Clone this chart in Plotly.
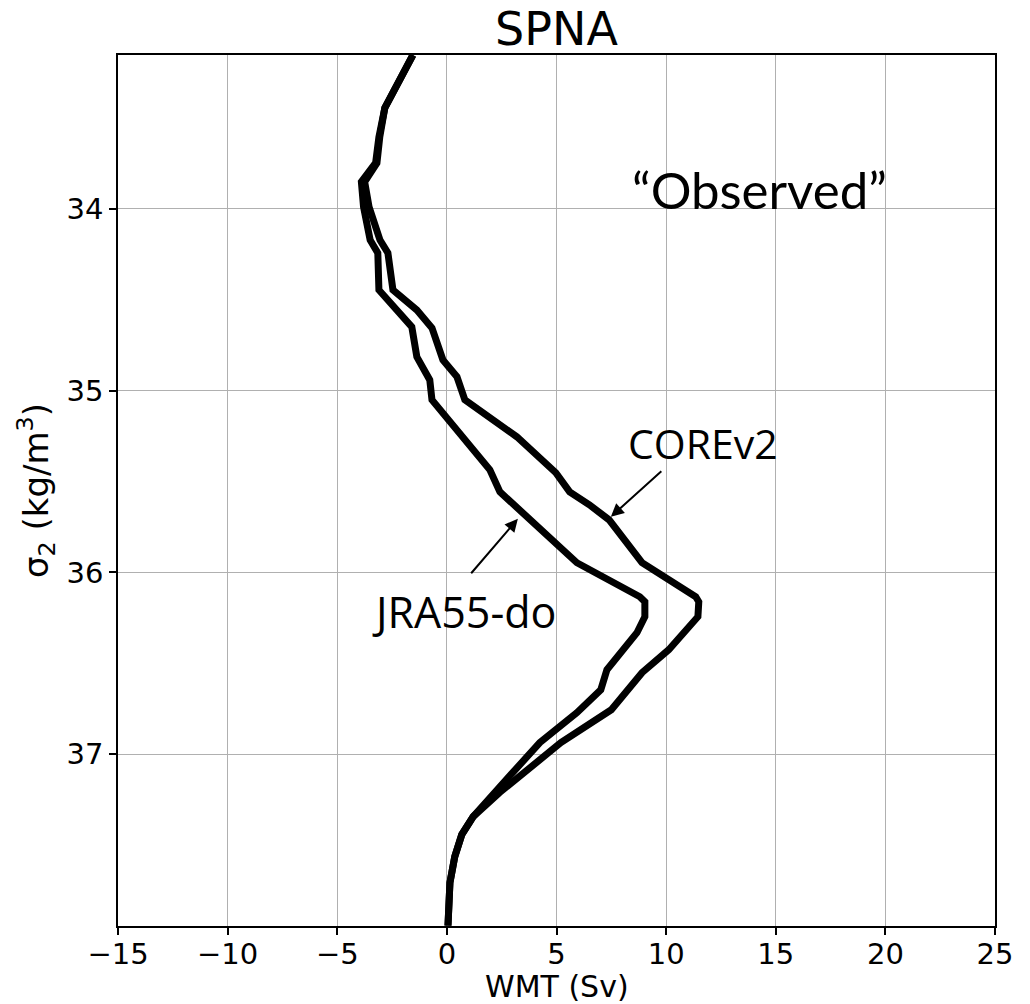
import plotly.graph_objects as go

# JRA55-do curve (left)
jra_wmt = [-1.55, -2.05, -2.83, -3.1, -3.25, -3.9, -3.8, -3.5, -3.15, -3.1, -2.4, -1.6, -1.37,
           -0.78, -0.68, 0.73, 1.96, 2.42, 5.93, 8.8, 9.03, 9.03, 8.67, 7.3, 7.02, 5.93, 4.24,
           3.0, 1.2, 0.68, 0.36, 0.14, 0.05]
jra_sig = [33.153, 33.274, 33.444, 33.604, 33.747, 33.851, 33.989, 34.171, 34.242, 34.446, 34.539,
           34.649, 34.814, 34.941, 35.051, 35.254, 35.436, 35.557, 35.947, 36.134, 36.162, 36.244,
           36.332, 36.536, 36.646, 36.772, 36.937, 37.102, 37.344, 37.443, 37.564, 37.707, 37.944]

# COREv2 curve (right)
core_wmt = [-1.55, -2.05, -2.83, -3.06, -3.19, -3.75, -3.55, -3.05, -2.69, -2.46, -1.37, -0.68,
            -0.18, 0.46, 0.82, 3.19, 4.97, 5.6, 6.5, 7.4, 8.9, 11.35, 11.49, 11.45, 10.12, 8.9,
            7.5, 5.2, 3.65, 2.4, 1.2, 0.68, 0.36, 0.14, 0.05]
core_sig = [33.153, 33.274, 33.444, 33.604, 33.747, 33.851, 33.989, 34.171, 34.242, 34.446, 34.556,
            34.655, 34.831, 34.924, 35.051, 35.254, 35.452, 35.557, 35.628, 35.711, 35.947, 36.134,
            36.162, 36.244, 36.426, 36.552, 36.756, 36.937, 37.085, 37.212, 37.344, 37.443, 37.564,
            37.707, 37.944]

x_ticks = [-15, -10, -5, 0, 5, 10, 15, 20, 25]
x_labels = ["\u221215", "\u221210", "\u22125", "0", "5", "10", "15", "20", "25"]
y_ticks = [34, 35, 36, 37]
y_labels = ["34", "35", "36", "37"]

fig = go.Figure()
fig.add_trace(go.Scatter(x=jra_wmt, y=jra_sig, mode="lines", name="JRA55-do",
                         line=dict(color="black", width=7)))
fig.add_trace(go.Scatter(x=core_wmt, y=core_sig, mode="lines", name="COREv2",
                         line=dict(color="black", width=7)))

axis_common = dict(showline=True, linecolor="black", linewidth=1.5, mirror=True,
                   showgrid=True, gridcolor="#b0b0b0", gridwidth=1, zeroline=False,
                   ticks="outside", ticklen=7, tickwidth=1.5, tickcolor="black",
                   automargin=False,
                   tickfont=dict(family="DejaVu Sans", size=29, color="black"))

fig.update_xaxes(range=[-15, 25], tickvals=x_ticks, ticktext=x_labels, **axis_common)
try:
    fig.update_xaxes(ticklabelstandoff=-6)
except Exception:
    pass
fig.update_yaxes(range=[37.946, 33.153], tickvals=y_ticks, ticktext=y_labels,
                 title=dict(text="\u03c3<sub>2</sub> (kg/m<sup>3</sup>)",
                            font=dict(family="DejaVu Sans", size=34, color="black"), standoff=8),
                 **axis_common)

# x-axis title as annotation for precise placement
fig.add_annotation(xref="paper", yref="paper", x=0.5, y=-0.0700, xanchor="center", yanchor="middle",
                   text="WMT (Sv)", showarrow=False,
                   font=dict(family="DejaVu Sans", size=30, color="black"))

fig.add_annotation(x=14.27, y=33.895, text="\u201cObserved\u201d", showarrow=False,
                   font=dict(family="Lato", size=51, color="black"))
fig.add_annotation(x=11.67, y=35.287, text="COREv2", showarrow=False,
                   font=dict(family="Open Sans", size=41, color="black"))
fig.add_annotation(x=0.78, y=36.217, text="JRA55-do", showarrow=False,
                   font=dict(family="Open Sans", size=43, color="black"))
# arrows
fig.add_annotation(x=7.48, y=35.694, ax=9.85, ay=35.436, axref="x", ayref="y",
                   text="", showarrow=True, arrowhead=2, arrowsize=1.3, arrowwidth=2, arrowcolor="black")
fig.add_annotation(x=3.24, y=35.705, ax=1.05, ay=36.013, axref="x", ayref="y",
                   text="", showarrow=True, arrowhead=2, arrowsize=1.3, arrowwidth=2, arrowcolor="black")

# page body margin (~8px) shifts the figure; compensate in size/margins
fig.update_layout(
    width=1022, height=996,
    margin=dict(l=110, r=35, t=47, b=78),
    paper_bgcolor="white", plot_bgcolor="white",
    showlegend=False,
    title=dict(text="SPNA", xref="paper", x=0.5, xanchor="center", y=0.979, yanchor="middle",
               font=dict(family="DejaVu Sans", size=46, color="black")),
)

fig.write_html("out.html")
